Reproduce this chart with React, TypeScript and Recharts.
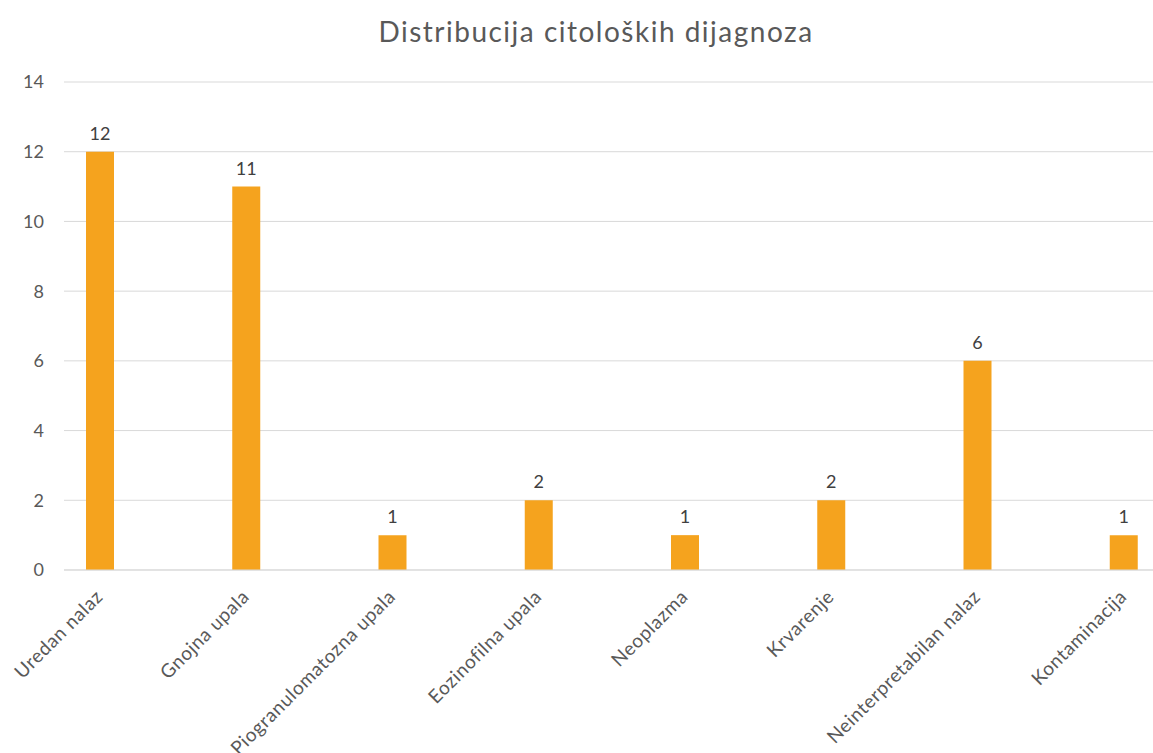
import React from 'react';
import { BarChart, Bar, XAxis, YAxis, CartesianGrid, LabelList } from 'recharts';

const categories = [
  'Uredan nalaz',
  'Gnojna upala',
  'Piogranulomatozna upala',
  'Eozinofilna upala',
  'Neoplazma',
  'Krvarenje',
  'Neinterpretabilan nalaz',
  'Kontaminacija',
];
const counts = [12, 11, 1, 2, 1, 2, 6, 1];
const yTicks = [0, 2, 4, 6, 8, 10, 12, 14];
const title = 'Distribucija citoloških dijagnoza';

const data = categories.map((name, i) => ({ name, value: counts[i] }));

const FONT = 'Lato, "Open Sans", sans-serif';

const XTick = (props: any) => {
  const { x, y, payload } = props;
  return (
    <text
      x={x + 4}
      y={y + 20}
      transform={`rotate(-45, ${x + 4}, ${y + 20})`}
      textAnchor="end"
      fill="#595959"
      fontSize={19}
      letterSpacing={0.6}
      fontFamily={FONT}
    >
      {payload.value}
    </text>
  );
};

export default function App() {
  return (
    <div style={{ position: 'absolute', left: 0, top: 0, width: 1153, height: 753, background: '#fff', overflow: 'hidden' }}>
      <div
        style={{
          position: 'absolute',
          left: 0,
          top: 17,
          width: 1192,
          textAlign: 'center',
          fontFamily: FONT,
          fontSize: 28,
          lineHeight: '28px',
          letterSpacing: 1.5,
          color: '#595959',
        }}
      >
        {title}
      </div>
      <BarChart
        width={1153}
        height={753}
        data={data}
        margin={{ top: 82, right: 0, bottom: 0, left: 0 }}
      >
        <CartesianGrid vertical={false} stroke="#d9d9d9" strokeWidth={1} />
        <XAxis
          dataKey="name"
          interval={0}
          height={183}
          tick={<XTick />}
          tickLine={false}
          axisLine={{ stroke: '#d9d9d9' }}
          padding={{ left: -37, right: -44 }}
        />
        <YAxis
          width={64}
          domain={[0, 14]}
          ticks={yTicks}
          interval={0}
          tickLine={false}
          axisLine={false}
          tickMargin={14}
          tick={{ fill: '#595959', fontSize: 18, fontFamily: FONT }}
        />
        <Bar dataKey="value" fill="#F5A31E" barSize={28} isAnimationActive={false}>
          <LabelList
            dataKey="value"
            position="top"
            offset={12}
            fill="#404040"
            fontSize={18}
            fontFamily={FONT}
          />
        </Bar>
      </BarChart>
    </div>
  );
}
